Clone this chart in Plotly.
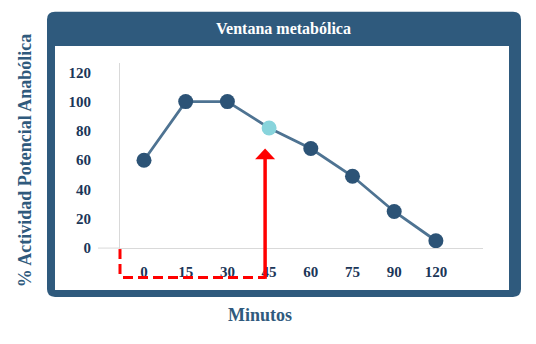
import plotly.graph_objects as go

# ---- data ----
minutes = ["0", "15", "30", "45", "60", "75", "90", "120"]
activity = [60, 100, 100, 82, 68, 49, 25, 5]
highlight_minute = "45"
y_ticks = [0, 20, 40, 60, 80, 100, 120]

title_text = "Ventana metabólica"
y_title = "% Actividad Potencial Anabólica"
x_title = "Minutos"

W, H = 536, 344
FRAME = "#2F5A7D"
NAVY = "#1B3658"
LINE = "#4E7392"
MARK = "#2C5376"
HIGH = "#88D4DC"
RED = "#FF0000"
FONT = "Liberation Serif"

# layout geometry (pixels)
PLOT_L, PLOT_R, PLOT_T, PLOT_B = 120, 483, 65, 254
FIRST_CAT_PX, CAT_STEP = 144, 41.7
Y_PX_PER_UNIT = 1.5


def px(x):
    return x / W


def py(y):
    return 1 - y / H


def rrect(x0, y0, x1, y1, r):
    pts = [
        f"M {px(x0 + r)} {py(y0)}",
        f"L {px(x1 - r)} {py(y0)}",
        f"Q {px(x1)} {py(y0)} {px(x1)} {py(y0 + r)}",
        f"L {px(x1)} {py(y1 - r)}",
        f"Q {px(x1)} {py(y1)} {px(x1 - r)} {py(y1)}",
        f"L {px(x0 + r)} {py(y1)}",
        f"Q {px(x0)} {py(y1)} {px(x0)} {py(y1 - r)}",
        f"L {px(x0)} {py(y0 + r)}",
        f"Q {px(x0)} {py(y0)} {px(x0 + r)} {py(y0)}",
        "Z",
    ]
    return " ".join(pts)


x_range = [(PLOT_L - FIRST_CAT_PX) / CAT_STEP, (PLOT_R - FIRST_CAT_PX) / CAT_STEP]
y_range = [0, (PLOT_B - PLOT_T) / Y_PX_PER_UNIT]

hi_idx = minutes.index(highlight_minute)
arrow_x = FIRST_CAT_PX + hi_idx * CAT_STEP - 4
arrow_bottom = 284
arrow_tip = 152

colors = [HIGH if m == highlight_minute else MARK for m in minutes]

fig = go.Figure()
fig.add_trace(go.Scatter(
    x=minutes, y=activity, mode="lines+markers",
    line=dict(color=LINE, width=2.8),
    marker=dict(size=15, color=colors),
    hoverinfo="skip", showlegend=False,
))

shapes = [
    # frame
    dict(type="path", xref="paper", yref="paper", path=rrect(47, 12, 521, 304, 8),
         fillcolor=FRAME, line=dict(width=0), layer="below"),
    dict(type="rect", xref="paper", yref="paper", x0=px(55), x1=px(509), y0=py(297), y1=py(47),
         fillcolor="white", line=dict(width=0), layer="below"),
    # axis extension to the left
    dict(type="line", xref="paper", yref="paper", x0=px(98), x1=px(PLOT_L), y0=py(PLOT_B), y1=py(PLOT_B),
         line=dict(color="#D9D9D9", width=1)),
    # red dashed path
    dict(type="line", xref="paper", yref="paper", x0=px(PLOT_L), x1=px(PLOT_L),
         y0=py(PLOT_B + 1), y1=py(arrow_bottom + 1.5),
         line=dict(color=RED, width=3, dash="10px,5px")),
    dict(type="line", xref="paper", yref="paper", x0=px(PLOT_L + 3), x1=px(arrow_x),
         y0=py(arrow_bottom), y1=py(arrow_bottom),
         line=dict(color=RED, width=3, dash="10px,5px")),
    # red arrow shaft
    dict(type="line", xref="paper", yref="paper", x0=px(arrow_x), x1=px(arrow_x),
         y0=py(arrow_bottom + 1.5), y1=py(arrow_tip + 8),
         line=dict(color=RED, width=3.5)),
    # arrow head
    dict(type="path", xref="paper", yref="paper",
         path=(f"M {px(arrow_x - 10)} {py(arrow_tip + 11)} L {px(arrow_x + 10)} {py(arrow_tip + 11)} "
               f"L {px(arrow_x)} {py(arrow_tip)} Z"),
         fillcolor=RED, line=dict(width=0)),
]

annotations = [
    dict(text=f"<b>{title_text}</b>", x=px(283), y=py(29.5), xref="paper", yref="paper",
         xanchor="center", yanchor="middle",
         showarrow=False, font=dict(family=FONT, size=16, color="white")),
    dict(text=f"<b>{y_title}</b>", x=px(25), y=py(164), xref="paper", yref="paper",
         xanchor="center", yanchor="middle",
         showarrow=False, textangle=-90, font=dict(family=FONT, size=18, color=FRAME)),
    dict(text=f"<b>{x_title}</b>", x=px(260), y=py(322), xref="paper", yref="paper",
         xanchor="center", yanchor="middle",
         showarrow=False, font=dict(family=FONT, size=18, color=FRAME)),
]

fig.update_layout(
    width=W, height=H,
    margin=dict(l=0, r=0, t=0, b=0),
    paper_bgcolor="white",
    plot_bgcolor="rgba(0,0,0,0)",
    shapes=shapes,
    annotations=annotations,
    xaxis=dict(
        type="category", domain=[px(PLOT_L), px(PLOT_R)], range=x_range,
        showgrid=False, zeroline=False, showline=True, linecolor="#D9D9D9", linewidth=1,
        ticks="", ticklabelstandoff=10,
        tickfont=dict(family=FONT, size=15, color=NAVY, weight="bold"),
    ),
    yaxis=dict(
        domain=[py(PLOT_B), py(PLOT_T)], range=y_range,
        tickvals=y_ticks, showgrid=False, zeroline=False,
        showline=True, linecolor="#D9D9D9", linewidth=1,
        ticks="", ticklabelstandoff=25,
        tickfont=dict(family=FONT, size=15, color=NAVY, weight="bold"),
    ),
)

fig.write_html("out.html")
